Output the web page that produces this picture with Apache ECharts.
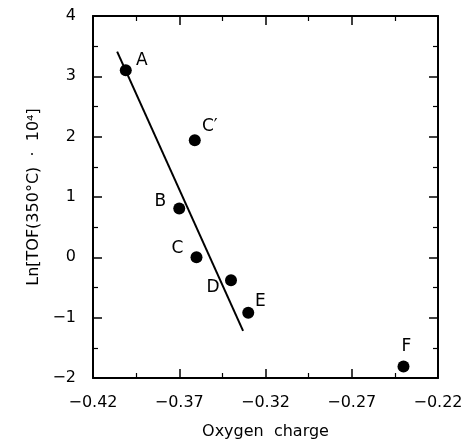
<!DOCTYPE html>
<html>
<head>
<meta charset="utf-8">
<script src="https://cdn.jsdelivr.net/npm/echarts@6/dist/echarts.min.js"></script>
<style>html,body{margin:0;padding:0;background:#fff}#c{width:467px;height:441px}</style>
</head>
<body>
<div id="c"></div>
<script>
// Data
var pointNames = ['A', 'C\u2032', 'B', 'C', 'D', 'E', 'F'];
var xValues = [-0.401, -0.361, -0.370, -0.360, -0.340, -0.330, -0.240];
var yValues = [3.10, 1.94, 0.81, 0.00, -0.38, -0.92, -1.81];
var fitX = [-0.406, -0.333];
var fitY = [3.41, -1.22];
var xTicks = [-0.42, -0.37, -0.32, -0.27, -0.22];
var yTicks = [-2, -1, 0, 1, 2, 3, 4];

// label offsets (style only)
var labelOffsets = [[16, -10], [15, -14], [-19, -7], [-19, -9], [-18, 7], [12, -11], [3, -20]];

var FONT = 'DejaVu Sans';
function fmt(v) { return String(v).replace('-', '\u2212'); }

var pts = pointNames.map(function (n, i) {
  return {
    value: [xValues[i], yValues[i]],
    name: n,
    label: { offset: labelOffsets[i] }
  };
});
var line = fitX.map(function (x, i) { return [x, fitY[i]]; });

var axisCommon = {
  type: 'value',
  axisLine: { show: true, onZero: false, lineStyle: { color: '#000', width: 2 } },
  axisTick: { show: true, inside: true, length: 9, lineStyle: { color: '#000', width: 1.5 } },
  minorTick: { show: true, splitNumber: 2, length: 5, lineStyle: { color: '#000', width: 1.2 } },
  splitLine: { show: false },
  minorSplitLine: { show: false }
};

var chart = echarts.init(document.getElementById('c'), null, { renderer: 'canvas' });
chart.setOption({
  backgroundColor: '#fff',
  animation: false,
  grid: { left: 93, right: 29, top: 16, bottom: 63, containLabel: false, outerBoundsMode: 'none' },
  xAxis: [
    Object.assign({}, axisCommon, {
      min: xTicks[0], max: xTicks[xTicks.length - 1], interval: 0.05,
      position: 'bottom',
      name: 'Oxygen  charge', nameLocation: 'middle', nameGap: 46,
      nameTextStyle: { fontFamily: FONT, fontSize: 16, color: '#000' },
      axisLabel: { fontFamily: FONT, fontSize: 16, color: '#000', margin: 17, formatter: function (v) { return fmt(v.toFixed(2)); } }
    }),
    Object.assign({}, axisCommon, {
      min: xTicks[0], max: xTicks[xTicks.length - 1], interval: 0.05,
      position: 'top', axisLabel: { show: false }
    })
  ],
  yAxis: [
    Object.assign({}, axisCommon, {
      min: yTicks[0], max: yTicks[yTicks.length - 1], interval: 1,
      position: 'left',
      name: 'Ln[TOF(350\u00B0C)  \u00B7  10\u2074]', nameLocation: 'middle', nameGap: 51, nameRotate: 90,
      nameTextStyle: { fontFamily: FONT, fontSize: 16, color: '#000' },
      axisLabel: { fontFamily: FONT, fontSize: 16, color: '#000', margin: 17, formatter: function (v) { return fmt(v); } }
    }),
    Object.assign({}, axisCommon, {
      min: yTicks[0], max: yTicks[yTicks.length - 1], interval: 1,
      position: 'right', axisLabel: { show: false }
    })
  ],
  series: [
    {
      type: 'line', data: line, showSymbol: false, symbol: 'none',
      lineStyle: { color: '#000', width: 2 }, silent: true, z: 2
    },
    {
      type: 'scatter', data: pts, symbol: 'circle', symbolSize: 12,
      itemStyle: { color: '#000', opacity: 1 }, z: 3,
      label: {
        show: true, position: 'inside', formatter: '{b}',
        fontFamily: FONT, fontSize: 17, color: '#000', opacity: 1, align: 'center', verticalAlign: 'middle'
      }
    }
  ]
});
</script>
</body>
</html>
